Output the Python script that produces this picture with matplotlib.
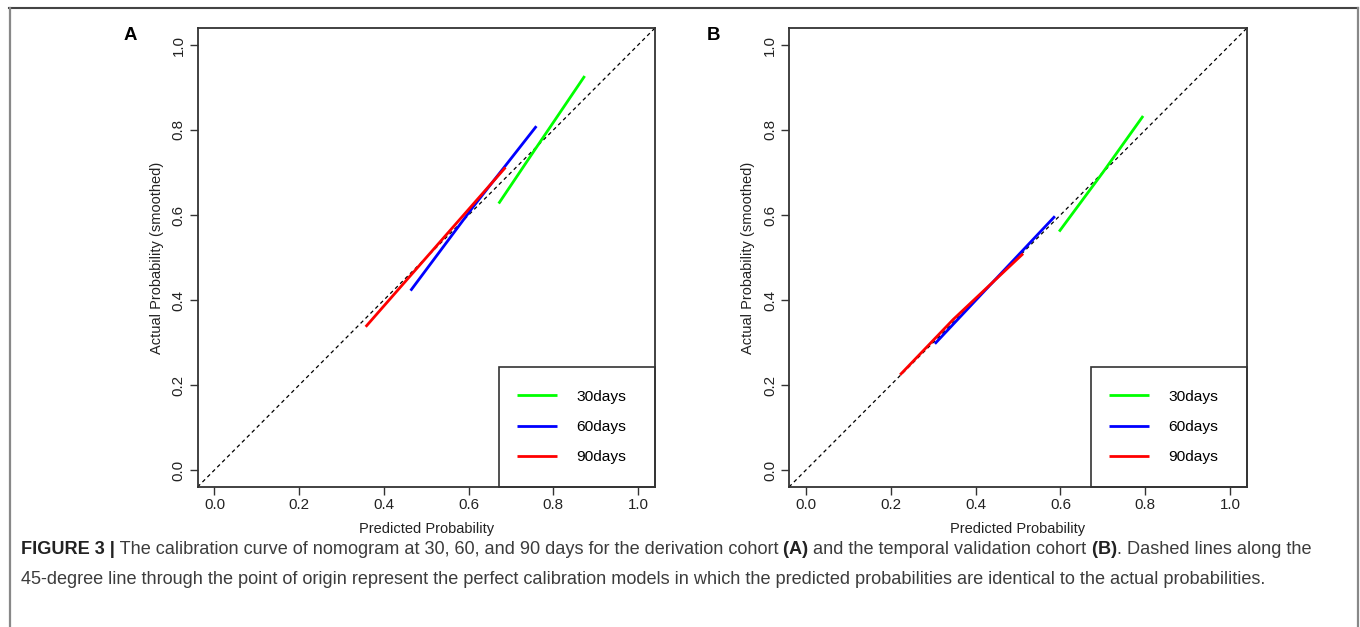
import matplotlib
matplotlib.use("Agg")
import matplotlib.pyplot as plt
from matplotlib import font_manager as fm
from matplotlib.patches import Rectangle
from matplotlib.lines import Line2D

# ---------------- data ----------------
series_labels = ["30days", "60days", "90days"]
series_colors = ["#00FF00", "#0000FF", "#FF0000"]

# Panel A (derivation cohort)
a_pred_30 = [0.671, 0.760, 0.874]
a_act_30 = [0.627, 0.759, 0.927]
a_pred_60 = [0.463, 0.609, 0.760]
a_act_60 = [0.422, 0.617, 0.809]
a_pred_90 = [0.357, 0.531, 0.687]
a_act_90 = [0.337, 0.535, 0.712]

# Panel B (temporal validation cohort)
b_pred_30 = [0.597, 0.700, 0.795]
b_act_30 = [0.561, 0.700, 0.833]
b_pred_60 = [0.304, 0.417, 0.587]
b_act_60 = [0.297, 0.417, 0.597]
b_pred_90 = [0.222, 0.347, 0.512]
b_act_90 = [0.224, 0.354, 0.509]

tick_values = [0.0, 0.2, 0.4, 0.6, 0.8, 1.0]
tick_labels = ["0.0", "0.2", "0.4", "0.6", "0.8", "1.0"]
x_label = "Predicted Probability"
y_label = "Actual Probability (smoothed)"
panel_letters = ["A", "B"]

caption_line1 = [
    ("FIGURE 3 |", "bold"),
    (" The calibration curve of nomogram at 30, 60, and 90 days for the derivation cohort", "normal"),
    (" (A)", "bold"),
    (" and the temporal validation cohort", "normal"),
    (" (B)", "bold"),
    (". Dashed lines along the", "normal"),
]
caption_line2 = [
    ("45-degree line through the point of origin represent the perfect calibration models in which the predicted probabilities are identical to the actual probabilities.", "normal"),
]

# ---------------- fonts ----------------
def has_font(name):
    try:
        fm.findfont(fm.FontProperties(family=name), fallback_to_default=False)
        return True
    except Exception:
        return False

if has_font("Liberation Sans Narrow"):
    FONT = "Liberation Sans Narrow"
    k = 1.0
else:
    FONT = "Liberation Sans"
    k = 0.82
plt.rcParams["font.family"] = [FONT, "DejaVu Sans"]

W, H = 1360, 627
fig = plt.figure(figsize=(W / 100, H / 100), dpi=100)
fig.patch.set_facecolor("white")

fs_tick = 13.3 * k
fs_lab = 12.8 * k
fs_leg = 13.6 * k
fs_leg_px = fs_leg * 100 / 72

axes_boxes = [(197.5, 28, 655, 487), (789, 28, 1247, 487)]
panel_data = [
    [(a_pred_30, a_act_30), (a_pred_60, a_act_60), (a_pred_90, a_act_90)],
    [(b_pred_30, b_act_30), (b_pred_60, b_act_60), (b_pred_90, b_act_90)],
]
letter_pos = [(130, 36), (714, 36)]
spine_col = "#333333"

for i, (l, t, r, b) in enumerate(axes_boxes):
    ax = fig.add_axes([l / W, 1 - b / H, (r - l) / W, (b - t) / H])
    ax.set_xlim(-0.04, 1.04)
    ax.set_ylim(-0.04, 1.04)
    ax.axline((0, 0), slope=1, color="black", lw=0.9, linestyle=(0, (3.0, 2.6)), zorder=1)
    handles = []
    for (xs, ys), col, lab in zip(panel_data[i], series_colors, series_labels):
        ln, = ax.plot(xs, ys, color=col, lw=2.0, solid_capstyle="butt", zorder=3, label=lab)
        handles.append(ln)
    ax.set_xticks(tick_values)
    ax.set_xticklabels(tick_labels)
    ax.set_yticks(tick_values)
    ax.set_yticklabels(tick_labels, rotation=90, va="center")
    ax.tick_params(axis="both", direction="out", length=5.8, width=1.0, color=spine_col,
                   labelsize=fs_tick, labelcolor="#222222")
    ax.tick_params(axis="x", pad=2.2)
    ax.tick_params(axis="y", pad=2.8)
    for s in ax.spines.values():
        s.set_color(spine_col)
        s.set_linewidth(1.3)
    ax.set_xlabel(x_label, fontsize=fs_lab, labelpad=6.8, color="#222222")
    ax.set_ylabel(y_label, fontsize=fs_lab, labelpad=5.8, color="#222222")

    # legend box
    axw = r - l
    axh = b - t
    bx0 = 1 - 156 / axw
    bh = 120 / axh
    ax.add_patch(Rectangle((bx0, 0), 1 - bx0, bh, transform=ax.transAxes, fill=False,
                           edgecolor=spine_col, lw=1.2, zorder=5, clip_on=False))
    ax.legend(handles=handles, loc="center left",
              bbox_to_anchor=(bx0 + 18 / axw, bh / 2), frameon=False,
              borderpad=0, borderaxespad=0, handlelength=40 / fs_leg_px,
              handletextpad=19 / fs_leg_px, labelspacing=1.05, fontsize=fs_leg)

    lx, ly = letter_pos[i]
    fig.text(lx / W, 1 - ly / H, panel_letters[i], fontsize=14.5 * k + 1.5, fontweight="bold",
             ha="center", va="center", color="black", family=["Liberation Sans", "DejaVu Sans"])

# ---------------- frame ----------------
fig.add_artist(Line2D([9 / W, 1358 / W], [1 - 8 / H, 1 - 8 / H], transform=fig.transFigure,
                      color="#444444", lw=1.5))
fig.add_artist(Line2D([9.5 / W, 9.5 / W], [0, 1 - 8 / H], transform=fig.transFigure,
                      color="#888888", lw=1.6))
fig.add_artist(Line2D([1357.5 / W, 1357.5 / W], [0, 1 - 8 / H], transform=fig.transFigure,
                      color="#888888", lw=1.6))

# ---------------- caption ----------------
renderer = fig.canvas.get_renderer()

def draw_line(pieces, x0, yc, size):
    x = x0
    arts = []
    for txt, wgt in pieces:
        col = "#222222" if wgt == "bold" else "#3c3c3c"
        tt = fig.text(x / W, 1 - yc / H, txt, fontsize=size, fontweight=wgt, ha="left",
                      va="center", color=col)
        bb = tt.get_window_extent(renderer)
        x += bb.width
        arts.append(tt)
    return x - x0, arts

w0, arts = draw_line(caption_line1, 21, 548, 12)
for a in arts:
    a.remove()
cap_size = 12 * 1296 / w0
draw_line(caption_line1, 21, 549, cap_size)
draw_line(caption_line2, 21, 580, cap_size)

fig.savefig("out.png", dpi=100, facecolor="white")
